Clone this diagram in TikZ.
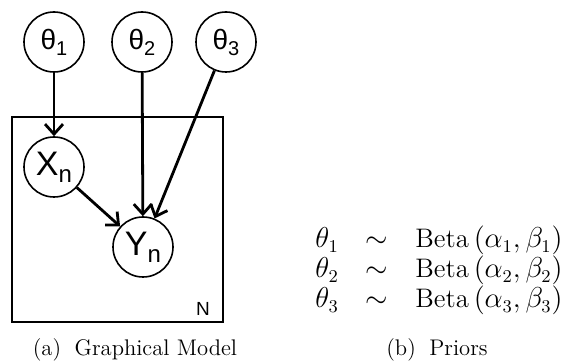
\documentclass[tikz,border=0pt]{standalone}
\usepackage{fontspec}
\usepackage{amsmath}
\newfontfamily\arialfont{Liberation Sans}
\usetikzlibrary{shapes.geometric,arrows.meta}
\newcommand{\gsym}[2]{{\arialfont\fontsize{14}{14}\selectfont #1\raisebox{-3pt}{\fontsize{10}{10}\selectfont #2}}}
\newcommand{\lsym}[2]{{\arialfont\fontsize{17}{17}\selectfont #1\raisebox{-3.5pt}{\fontsize{12}{12}\selectfont #2}}}
\begin{document}
\begin{tikzpicture}[x=0.5pt,y=-0.5pt,
  var/.style={circle,draw,line width=0.8pt,minimum size=30pt,inner sep=0pt},
  edge/.style={line width=1.4pt,-{Straight Barb[length=5pt,width=9pt]}},
  plate/.style={draw,line width=1pt},
  mtxt/.style={inner sep=0pt,font=\fontsize{13.4}{15}\selectfont},
  ctxt/.style={inner sep=0pt,anchor=base,font=\fontsize{11.3}{13}\selectfont}]
\useasboundingbox (0,0) rectangle (561,362);
% plate
\draw[plate] (12,117) rectangle (223,322);
\node[inner sep=0pt,anchor=base] (N) at (203,316) {\arialfont\fontsize{9.5}{9.5}\selectfont N};
% nodes
\node[var] (t1) at (54,42) {\gsym{θ}{1}};
\node[var] (t2) at (142,42) {\gsym{θ}{2}};
\node[var] (t3) at (226,42) {\gsym{θ}{3}};
\node[var] (x) at (54,167) {\lsym{X}{n}};
\node[var] (y) at (143,247) {\lsym{Y}{n}};
% edges
\draw[edge] (t1) -- (x);
\draw[edge] (t2) -- (y);
\draw[edge] (t3) -- (y);
\draw[edge] (x) -- (y);
% captions
\node[ctxt] (capa) at (135,356) {(a)\hspace{0.6em}Graphical Model};
% priors
\node[mtxt,anchor=base west] (p1) at (315,248) {$\theta_1$};
\node[mtxt,anchor=base] (s1) at (377,248) {$\sim$};
\node[mtxt,anchor=base west] (b1) at (415,248) {$\mathrm{Beta}\left(\alpha_1,\beta_1\right)$};
\node[mtxt,anchor=base west] (p2) at (315,278) {$\theta_2$};
\node[mtxt,anchor=base] (s2) at (377,278) {$\sim$};
\node[mtxt,anchor=base west] (b2) at (415,278) {$\mathrm{Beta}\left(\alpha_2,\beta_2\right)$};
\node[mtxt,anchor=base west] (p3) at (315,308) {$\theta_3$};
\node[mtxt,anchor=base] (s3) at (377,308) {$\sim$};
\node[mtxt,anchor=base west] (b3) at (415,308) {$\mathrm{Beta}\left(\alpha_3,\beta_3\right)$};
\node[ctxt] (capb) at (437,356) {(b)\hspace{0.6em}Priors};
\end{tikzpicture}
\end{document}
